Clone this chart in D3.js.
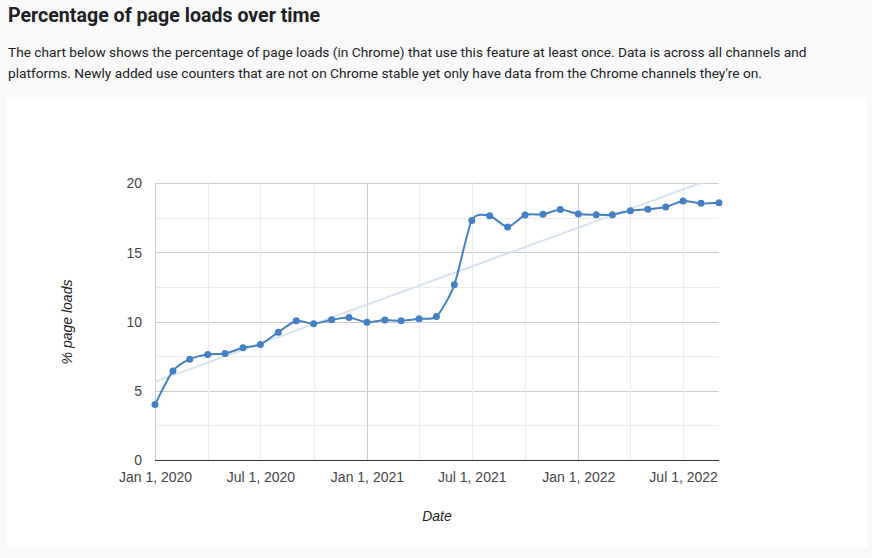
<!DOCTYPE html>
<html>
<head>
<meta charset="utf-8">
<script src="https://cdn.jsdelivr.net/npm/d3@7"></script>
<style>
  body { margin: 0; background: #f9f9f9; font-family: Roboto, sans-serif; color: #202124; }
  h2 { position: absolute; left: 8px; top: 4px; margin: 0; font-size: 19.6px; font-weight: 700; }
  p { position: absolute; left: 8px; top: 42px; margin: 0; font-size: 13.7px; line-height: 20.5px; width: 840px; }
  #card { position: absolute; left: 7px; top: 97px; width: 860px; height: 450px; background: #fff; }
  svg { position: absolute; left: 0; top: 0; }
</style>
</head>
<body>
<h2>Percentage of page loads over time</h2>
<p>The chart below shows the percentage of page loads (in Chrome) that use this feature at least once. Data is across all channels and platforms. Newly added use counters that are not on Chrome stable yet only have data from the Chrome channels they're on.</p>
<div id="card"></div>
<svg id="chart" width="872" height="558"></svg>
<script>
const months = ["2020-01", "2020-02", "2020-03", "2020-04", "2020-05", "2020-06", "2020-07", "2020-08",
  "2020-09", "2020-10", "2020-11", "2020-12", "2021-01", "2021-02", "2021-03", "2021-04", "2021-05",
  "2021-06", "2021-07", "2021-08", "2021-09", "2021-10", "2021-11", "2021-12", "2022-01", "2022-02",
  "2022-03", "2022-04", "2022-05", "2022-06", "2022-07", "2022-08", "2022-09"];
const pct = [4.0, 6.43, 7.28, 7.62, 7.69, 8.1, 8.34, 9.23, 10.05, 9.83, 10.12, 10.29, 9.95, 10.1,
  10.05, 10.2, 10.36, 12.65, 17.3, 17.64, 16.82, 17.69, 17.74, 18.08, 17.76, 17.71, 17.71, 18.0,
  18.1, 18.27, 18.7, 18.53, 18.58];
const yTicks = [0, 5, 10, 15, 20];
const xTickDates = ["2020-01", "2020-07", "2021-01", "2021-07", "2022-01", "2022-07"];

const parse = d3.timeParse("%Y-%m");
const data = months.map((m, i) => ({ date: parse(m), value: pct[i] }));

const plotLeft = 155, plotRight = 719, plotTop = 183, plotBottom = 460;
const font = "Arial, 'Liberation Sans', sans-serif";
const svg = d3.select("#chart");

const x = d3.scaleTime()
  .domain(d3.extent(data, d => d.date))
  .range([plotLeft, plotRight]);
const y = d3.scaleLinear().domain([0, 20]).range([plotBottom, plotTop]);

// gridlines: minor every 2.5, every 3 months vertically
const g = svg.append("g");
d3.range(0, 20.01, 2.5).forEach(v => {
  g.append("line")
    .attr("x1", plotLeft).attr("x2", plotRight)
    .attr("y1", Math.round(y(v)) + 0.5).attr("y2", Math.round(y(v)) + 0.5)
    .attr("stroke", v % 5 === 0 ? "#cccccc" : "#ebebeb");
});
d3.timeMonth.every(3).range(x.domain()[0], d3.timeDay.offset(x.domain()[1], 1)).forEach(d => {
  g.append("line")
    .attr("y1", plotTop).attr("y2", plotBottom)
    .attr("x1", Math.round(x(d)) + 0.5).attr("x2", Math.round(x(d)) + 0.5)
    .attr("stroke", d.getMonth() === 0 ? "#cccccc" : "#ebebeb");
});
g.append("line")
  .attr("x1", plotLeft).attr("x2", plotRight)
  .attr("y1", plotBottom + 0.5).attr("y2", plotBottom + 0.5)
  .attr("stroke", "#333");

// axis labels
const yAxis = svg.append("g")
  .attr("transform", `translate(${plotLeft - 13},0)`)
  .call(d3.axisLeft(y).tickValues(yTicks).tickSize(0).tickPadding(0));
yAxis.select(".domain").remove();
yAxis.selectAll("text")
  .attr("font-family", font)
  .attr("font-size", 14).attr("fill", "#444").attr("dy", "0.35em");

const xAxis = svg.append("g")
  .attr("transform", `translate(0,${plotBottom + 12})`)
  .call(d3.axisBottom(x).tickValues(xTickDates.map(parse)).tickFormat(d3.timeFormat("%b %-d, %Y")).tickSize(0).tickPadding(0));
xAxis.select(".domain").remove();
xAxis.selectAll("text")
  .attr("font-family", font)
  .attr("font-size", 14).attr("fill", "#444").attr("dy", "0.71em");

svg.append("text")
  .attr("x", 437).attr("y", 521)
  .attr("text-anchor", "middle")
  .attr("font-family", font)
  .attr("font-size", 14).attr("font-style", "italic").attr("fill", "#222")
  .text("Date");
svg.append("text")
  .attr("transform", "translate(72,322) rotate(-90)")
  .attr("text-anchor", "middle")
  .attr("font-family", font)
  .attr("font-size", 14).attr("font-style", "italic").attr("fill", "#222")
  .text("% page loads");

// linear trendline (least squares over the points)
const xs = data.map(d => +d.date), ys = pct;
const mx = d3.mean(xs), my = d3.mean(ys);
const slope = d3.sum(xs, (v, i) => (v - mx) * (ys[i] - my)) / d3.sum(xs, v => (v - mx) ** 2);
const icpt = my - slope * mx;
svg.append("clipPath").attr("id", "plot")
  .append("rect").attr("x", plotLeft).attr("y", plotTop).attr("width", plotRight - plotLeft).attr("height", plotBottom - plotTop);
svg.append("line")
  .attr("clip-path", "url(#plot)")
  .attr("x1", x(x.domain()[0])).attr("y1", y(icpt + slope * xs[0]))
  .attr("x2", x(x.domain()[1])).attr("y2", y(icpt + slope * xs[xs.length - 1]))
  .attr("stroke", "#d6e4f4").attr("stroke-width", 2);

const line = d3.line()
  .x(d => x(d.date)).y(d => y(d.value))
  .curve(d3.curveCardinal.tension(0.3));
svg.append("path")
  .datum(data)
  .attr("d", line)
  .attr("fill", "none")
  .attr("stroke", "#4580c4")
  .attr("stroke-width", 2);

svg.selectAll("circle.pt")
  .data(data)
  .join("circle")
  .attr("class", "pt")
  .attr("cx", d => x(d.date)).attr("cy", d => y(d.value))
  .attr("r", 3.5)
  .attr("fill", "#4580c4");
</script>
</body>
</html>
